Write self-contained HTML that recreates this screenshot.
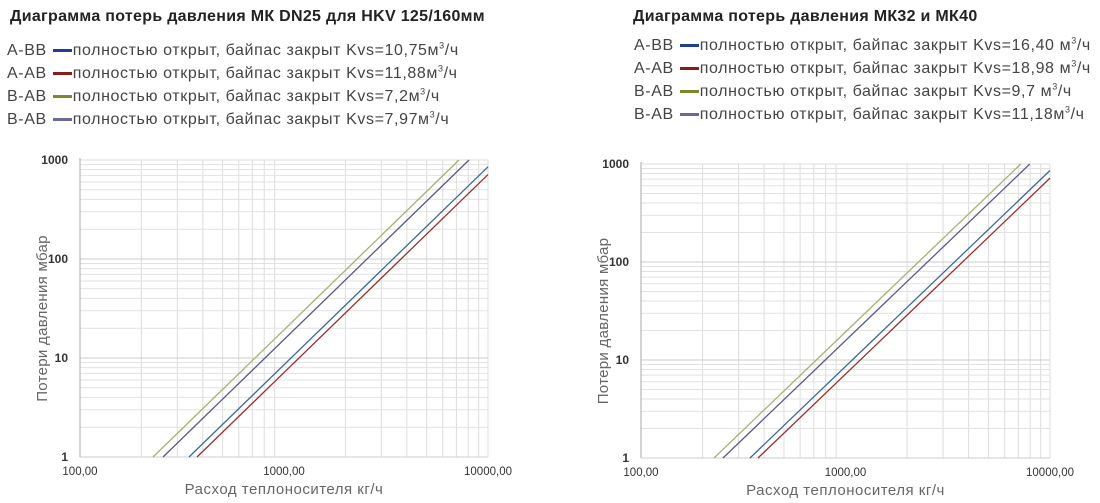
<!DOCTYPE html><html><head><meta charset="utf-8"><style>
body{margin:0;width:1100px;height:503px;background:#fff;overflow:hidden;position:relative;font-family:"Liberation Sans","DejaVu Sans",sans-serif}
.t{position:absolute;font-weight:bold;font-size:16px;letter-spacing:0.3px;color:#222;white-space:nowrap}
.l{position:absolute;font-size:16px;letter-spacing:0.6px;color:#444;white-space:nowrap;line-height:23px}
.l span.s{display:inline-block;width:19px;height:3px;vertical-align:middle;margin:0 1px 0 6px}
sup{font-size:9px;line-height:0}
</style></head><body>
<div class="t" style="left:10px;top:8px">Диаграмма потерь давления МК DN25 для HKV 125/160мм</div>
<div class="t" style="left:633px;top:8px">Диаграмма потерь давления МК32 и МК40</div>
<div class="l" style="left:7px;top:39px">A-BB<span class="s" style="background:#1f3f8f"></span>полностью открыт, байпас закрыт Kvs=10,75м<sup>3</sup>/ч<br>A-AB<span class="s" style="background:#8b1c1c"></span>полностью открыт, байпас закрыт Kvs=11,88м<sup>3</sup>/ч<br>B-AB<span class="s" style="background:#7a8a2a"></span>полностью открыт, байпас закрыт Kvs=7,2м<sup>3</sup>/ч<br>B-AB<span class="s" style="background:#6a6a9a"></span>полностью открыт, байпас закрыт Kvs=7,97м<sup>3</sup>/ч</div>
<div class="l" style="left:634px;top:34px">A-BB<span class="s" style="background:#1f3f8f"></span>полностью открыт, байпас закрыт Kvs=16,40 м<sup>3</sup>/ч<br>A-AB<span class="s" style="background:#8b1c1c"></span>полностью открыт, байпас закрыт Kvs=18,98 м<sup>3</sup>/ч<br>B-AB<span class="s" style="background:#7a8a2a"></span>полностью открыт, байпас закрыт Kvs=9,7 м<sup>3</sup>/ч<br>B-AB<span class="s" style="background:#6a6a9a"></span>полностью открыт, байпас закрыт Kvs=11,18м<sup>3</sup>/ч</div>
<svg id="sv" width="1100" height="503" style="position:absolute;left:0;top:0"></svg>
<script>
var s='';
function chart(x0,x1,yT,yB,starts){
 var dx=(x1-x0)/2,dy=(yB-yT)/3;
 for(var d=0;d<2;d++)for(var m=2;m<10;m++){var x=x0+dx*(d+Math.log10(m));s+='<line x1="'+x+'" y1="'+yT+'" x2="'+x+'" y2="'+yB+'" stroke="#ddd" stroke-width="1"/>';}
 for(var d=0;d<3;d++)for(var m=1;m<10;m++){var y=yB-dy*(d+Math.log10(m));s+='<line x1="'+x0+'" y1="'+y+'" x2="'+x1+'" y2="'+y+'" stroke="'+(m==1?'#ccc':'#e2e2e2')+'" stroke-width="1"/>';}
 s+='<line x1="'+x0+'" y1="'+yT+'" x2="'+x1+'" y2="'+yT+'" stroke="#ddd"/>';
 s+='<line x1="'+x1+'" y1="'+yT+'" x2="'+x1+'" y2="'+yB+'" stroke="#ddd"/>';
 s+='<line x1="'+x0+'" y1="'+(yT-2)+'" x2="'+x0+'" y2="'+yB+'" stroke="#aaa"/>';
 var cols=['#a8b070','#5a5a8a','#3a6a9a','#9a3030'];
 var slope=(2*dy)/dx;
 for(var i=0;i<4;i++){var xa=starts[i],xb=xa+(yB-yT)/slope,ya=yB,yb=yT;if(xb>x1){yb=yB-(x1-xa)*slope;xb=x1;}
  s+='<line x1="'+xa+'" y1="'+ya+'" x2="'+xb+'" y2="'+yb+'" stroke="'+cols[i]+'" stroke-width="1.3"/>';}
 var lb=['1000','100','10','1'];
 for(var i=0;i<4;i++)s+='<text x="'+(x0-12)+'" y="'+(yT+dy*i+4)+'" text-anchor="end" font-size="12" fill="#333" font-weight="bold">'+lb[i]+'</text>';
 var xl=['100,00','1000,00','10000,00'];
 for(var i=0;i<3;i++)s+='<text x="'+(x0+dx*i)+'" y="'+(yB+18)+'" text-anchor="middle" font-size="11.5" fill="#333">'+xl[i]+'</text>';
 s+='<text x="'+(x0+dx)+'" y="'+(yB+37)+'" text-anchor="middle" font-size="15" letter-spacing="0.5" fill="#666">Расход теплоносителя кг/ч</text>';
 var cy=(yT+yB)/2+10;
 s+='<text transform="translate('+(x0-33)+','+cy+') rotate(-90)" text-anchor="middle" font-size="15" letter-spacing="0.3" fill="#666">Потери давления мбар</text>';
}
chart(80,488,160,457,[153,163,189,197]);
chart(641,1050,164,458,[714,723,750,758]);
document.getElementById('sv').innerHTML=s;
</script>
</body></html>
